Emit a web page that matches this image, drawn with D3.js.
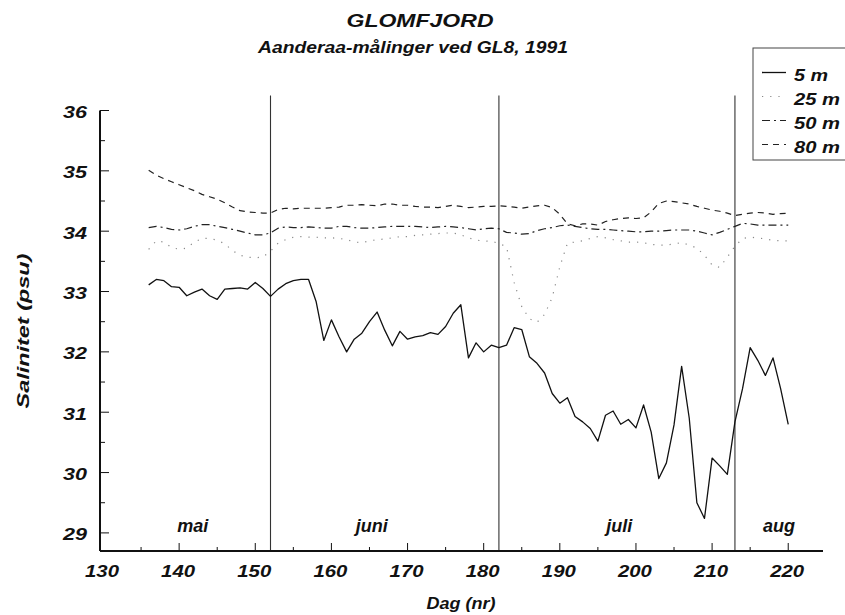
<!DOCTYPE html>
<html><head><meta charset="utf-8">
<script src="https://cdn.jsdelivr.net/npm/d3@7/dist/d3.min.js"></script>
<style>
html,body{margin:0;padding:0;background:#fff;}
text{font-family:"Liberation Sans",Arial,Helvetica,sans-serif;font-weight:bold;font-style:italic;fill:#111;}
</style></head>
<body>
<svg id="chart" width="845" height="615"></svg>
<script>
const days = d3.range(136, 221);
const s5 = [33.11,33.20,33.18,33.08,33.07,32.93,32.99,33.04,32.93,32.87,33.04,33.05,33.06,33.04,33.15,33.05,32.92,33.04,33.13,33.18,33.20,33.20,32.83,32.19,32.53,32.25,32.00,32.21,32.31,32.50,32.66,32.36,32.10,32.34,32.21,32.25,32.27,32.32,32.29,32.42,32.64,32.78,31.90,32.15,32.00,32.11,32.07,32.11,32.40,32.37,31.92,31.81,31.65,31.31,31.15,31.24,30.93,30.84,30.73,30.52,30.95,31.02,30.80,30.88,30.74,31.12,30.67,29.90,30.16,30.79,31.76,30.90,29.50,29.24,30.24,30.11,29.97,30.84,31.39,32.07,31.86,31.61,31.90,31.39,30.80];
const s25 = [33.70,33.84,33.82,33.73,33.70,33.72,33.82,33.88,33.88,33.85,33.79,33.68,33.60,33.57,33.56,33.57,33.67,33.80,33.86,33.90,33.91,33.90,33.90,33.89,33.89,33.88,33.86,33.82,33.81,33.84,33.86,33.87,33.89,33.91,33.91,33.93,33.94,33.95,33.96,33.97,33.97,33.94,33.89,33.85,33.84,33.83,33.80,33.74,33.15,32.75,32.55,32.49,32.62,32.90,33.41,33.80,33.82,33.84,33.88,33.91,33.89,33.86,33.84,33.82,33.82,33.81,33.78,33.77,33.77,33.79,33.81,33.77,33.72,33.60,33.44,33.40,33.57,33.75,33.88,33.90,33.89,33.87,33.85,33.84,33.84];
const s50 = [34.06,34.08,34.06,34.03,34.02,34.04,34.08,34.11,34.11,34.08,34.06,34.03,34.00,33.97,33.94,33.94,33.97,34.05,34.07,34.06,34.06,34.07,34.06,34.05,34.05,34.08,34.08,34.06,34.05,34.05,34.06,34.07,34.08,34.08,34.08,34.08,34.07,34.06,34.07,34.08,34.07,34.06,34.04,34.02,34.04,34.05,34.04,33.98,33.97,33.95,33.96,34.01,34.04,34.06,34.09,34.10,34.08,34.06,34.04,34.03,34.03,34.02,34.01,34.00,33.99,33.99,34.00,34.00,34.01,34.02,34.02,34.02,34.00,33.97,33.94,33.98,34.03,34.08,34.13,34.12,34.10,34.10,34.10,34.10,34.10];
const s80 = [35.01,34.93,34.87,34.82,34.77,34.72,34.67,34.61,34.57,34.53,34.47,34.40,34.34,34.32,34.31,34.30,34.30,34.36,34.38,34.37,34.38,34.38,34.38,34.38,34.39,34.40,34.43,34.43,34.44,34.43,34.42,34.45,34.45,34.43,34.43,34.41,34.40,34.40,34.39,34.41,34.43,34.41,34.39,34.40,34.41,34.41,34.42,34.41,34.40,34.38,34.40,34.42,34.43,34.39,34.28,34.12,34.09,34.12,34.12,34.10,34.16,34.19,34.21,34.22,34.21,34.22,34.32,34.46,34.50,34.49,34.47,34.45,34.41,34.38,34.35,34.33,34.30,34.26,34.28,34.30,34.31,34.30,34.28,34.29,34.30];
const seriesNames = ["5 m","25 m","50 m","80 m"];
const monthBreaks = [152, 182, 213];
const monthNames = ["mai","juni","juli","aug"];
const monthCenters = [141.8, 165.3, 197.8, 218.8];
const xTickLabels = [130,140,150,160,170,180,190,200,210,220];
const yTickLabels = [29,30,31,32,33,34,35,36];

const svg = d3.select("#chart");
const x = d3.scaleLinear().domain([130,225]).range([103,826.3]);
const y = d3.scaleLinear().domain([28.7,36]).range([551,110.5]);
const styles = [
  {dash:null, w:1.3, c:"#111"},
  {dash:"1.2,7", w:1.2, c:"#888"},
  {dash:"8,4,2,4", w:1.2, c:"#222"},
  {dash:"6,5", w:1.2, c:"#222"}
];
const allSeries = [s5, s25, s50, s80];

// vertical month lines
svg.selectAll("line.mb").data(monthBreaks).enter().append("line")
  .attr("x1", d=>x(d)).attr("x2", d=>x(d))
  .attr("y1", y(36.25)).attr("y2", y(28.7))
  .attr("stroke","#333").attr("stroke-width",1.1);

// axes lines
svg.append("line").attr("x1",100).attr("x2",100).attr("y1",y(36)).attr("y2",y(28.7)).attr("stroke","#111").attr("stroke-width",2);
svg.append("line").attr("x1",100).attr("x2",823).attr("y1",y(28.7)).attr("y2",y(28.7)).attr("stroke","#111").attr("stroke-width",2);

// y ticks
const yMaj = yTickLabels, yMin = yTickLabels.slice(0,-1).map(v=>v+0.5);
svg.selectAll("line.ytM").data(yMaj).enter().append("line")
  .attr("x1",100).attr("x2",109).attr("y1",d=>y(d)).attr("y2",d=>y(d)).attr("stroke","#111").attr("stroke-width",1);
svg.selectAll("line.ytm").data(yMin).enter().append("line")
  .attr("x1",100).attr("x2",105).attr("y1",d=>y(d)).attr("y2",d=>y(d)).attr("stroke","#111").attr("stroke-width",1);
svg.selectAll("text.yl").data(yMaj).enter().append("text")
  .attr("x",87).attr("y",d=>y(d)+7.5).attr("text-anchor","end")
  .attr("font-size",17).attr("textLength",24).attr("lengthAdjust","spacingAndGlyphs")
  .text(d=>d);

// x ticks
const xMaj = xTickLabels.slice(1), xMin = d3.range(135,221,10);
svg.selectAll("line.xtM").data(xMaj).enter().append("line")
  .attr("x1",d=>x(d)).attr("x2",d=>x(d)).attr("y1",551).attr("y2",543).attr("stroke","#111").attr("stroke-width",1);
svg.selectAll("line.xtm").data(xMin).enter().append("line")
  .attr("x1",d=>x(d)).attr("x2",d=>x(d)).attr("y1",551).attr("y2",547).attr("stroke","#111").attr("stroke-width",1);
svg.selectAll("text.xl").data(xTickLabels).enter().append("text")
  .attr("x",d=>x(d)-1).attr("y",577).attr("text-anchor","middle")
  .attr("font-size",17).attr("textLength",34).attr("lengthAdjust","spacingAndGlyphs")
  .text(d=>d);

// month names
svg.selectAll("text.mn").data(monthNames).enter().append("text")
  .attr("x",(d,i)=>x(monthCenters[i])).attr("y",532).attr("text-anchor","middle")
  .attr("font-size",18).text(d=>d);

// series
const line = d3.line().x((d,i)=>x(days[i])).y(d=>y(d));
allSeries.forEach((s,k)=>{
  svg.append("path").datum(s).attr("d",line).attr("fill","none")
    .attr("stroke",styles[k].c).attr("stroke-width",styles[k].w)
    .attr("stroke-dasharray",styles[k].dash)
    .attr("stroke-linejoin","round");
});

// titles
svg.append("text").attr("x",420).attr("y",27).attr("text-anchor","middle")
  .attr("font-size",18).attr("textLength",147).attr("lengthAdjust","spacingAndGlyphs").text("GLOMFJORD");
svg.append("text").attr("x",413).attr("y",53).attr("text-anchor","middle")
  .attr("font-size",16).attr("textLength",310).attr("lengthAdjust","spacingAndGlyphs").text("Aanderaa-målinger ved GL8, 1991");

// axis titles
svg.append("text").attr("transform","translate(29,331) rotate(-90)").attr("text-anchor","middle")
  .attr("font-size",16).attr("textLength",155).attr("lengthAdjust","spacingAndGlyphs").text("Salinitet (psu)");
svg.append("text").attr("x",461).attr("y",609).attr("text-anchor","middle")
  .attr("font-size",17).attr("textLength",69).attr("lengthAdjust","spacingAndGlyphs").text("Dag (nr)");

// legend
const lg = svg.append("g");
lg.append("rect").attr("x",753).attr("y",48).attr("width",110).attr("height",112)
  .attr("fill","none").attr("stroke","#444").attr("stroke-width",1);
const lgBase = [81,105,129,153];
seriesNames.forEach((n,k)=>{
  lg.append("line").attr("x1",762).attr("x2",786).attr("y1",lgBase[k]-8.5).attr("y2",lgBase[k]-8.5)
    .attr("stroke",styles[k].c).attr("stroke-width",styles[k].w).attr("stroke-dasharray",styles[k].dash);
  lg.append("text").attr("x",794).attr("y",lgBase[k]).attr("font-size",16)
    .attr("textLength", n.length===3?34:46).attr("lengthAdjust","spacingAndGlyphs").text(n);
});
</script>
</body></html>
